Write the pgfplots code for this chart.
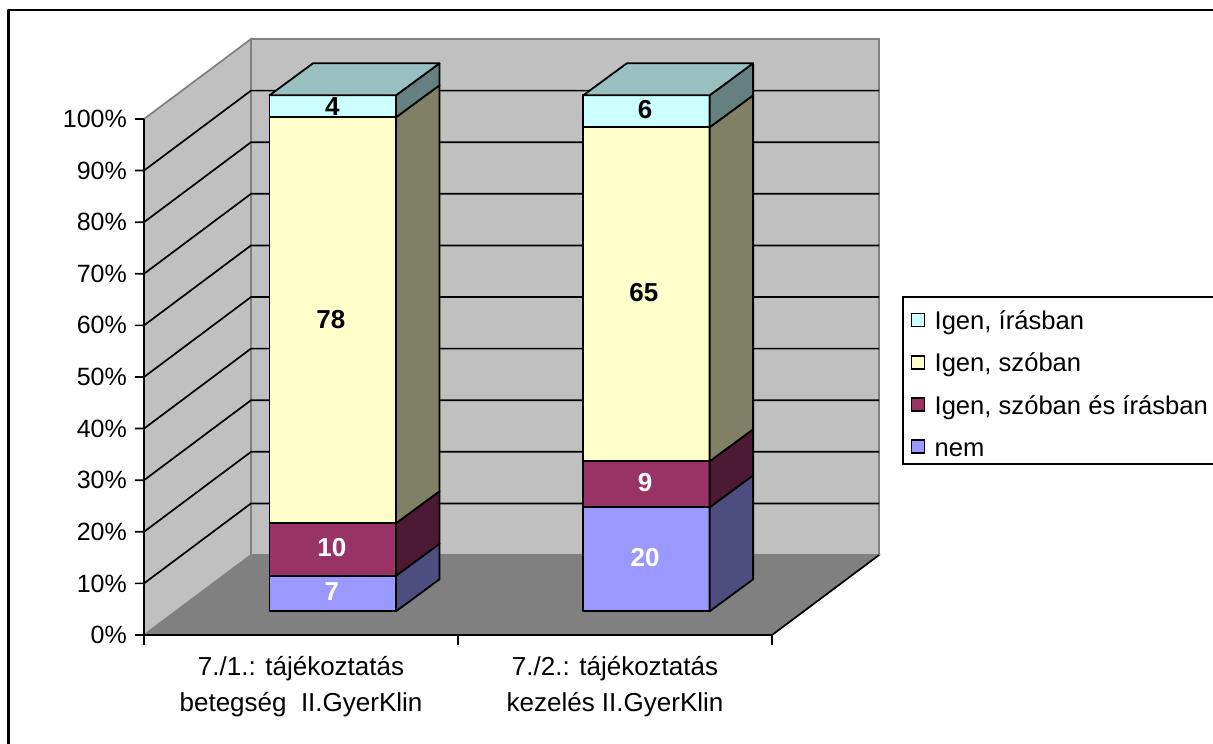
\documentclass[border=0pt]{standalone}
\usepackage{pgfplots}
\pgfplotsset{compat=1.18}
\usepackage{fontspec}
\setmainfont{Liberation Sans}

\definecolor{wall}{HTML}{C0C0C0}
\definecolor{wallline}{HTML}{808080}
\definecolor{floorc}{HTML}{808080}
\definecolor{nemF}{HTML}{9999FF}
\definecolor{nemS}{HTML}{4D4D80}
\definecolor{mindF}{HTML}{993366}
\definecolor{mindS}{HTML}{4D1A33}
\definecolor{szoF}{HTML}{FFFFCC}
\definecolor{szoS}{HTML}{808066}
\definecolor{irF}{HTML}{CCFFFF}
\definecolor{irS}{HTML}{668080}
\definecolor{irT}{HTML}{99C0C0}

\newcommand{\lbl}{\fontsize{25}{35}\selectfont}
\newcommand{\catlbl}{\fontsize{26}{36}\selectfont}
\newcommand{\leglbl}{\fontsize{25.6}{30}\selectfont}
\newcommand{\vallbl}{\fontsize{26}{30}\selectfont\bfseries}
\newcommand{\swatch}[1]{\addlegendimage{legend image code/.code={\path[draw=none] (0pt,-3pt) -- (21pt,-3pt);\draw[fill=#1,draw=black,line width=1.6pt] (0pt,-9.5pt) rectangle (13pt,3.5pt);}}}

\begin{document}
\begin{tikzpicture}
\useasboundingbox (0,0) rectangle (1213pt,744pt);
\begin{axis}[
    scale only axis,
    width=1213pt, height=744pt,
    xmin=-0.4586, xmax=3.4045,
    ymin=-21.124, ymax=123.06,
    axis line style={draw=none},
    tick style={draw=none},
    major tick length=0pt,
    ytick={0,10,...,100},
    yticklabel={\pgfmathprintnumber{\tick}\%},
    /pgf/number format/assume math mode=true,
    yticklabel style={font=\lbl, anchor=east, inner sep=0pt, xshift=127pt},
    xtick={0.5,1.5},
    xticklabels={{7./1.: tájékoztatás\\betegség\ \ II.GyerKlin},{7./2.: tájékoztatás\\kezelés II.GyerKlin}},
    xticklabel style={font=\catlbl, align=center, anchor=north, inner sep=0pt, yshift=88pt},
    legend style={at={(0.7436,0.6022)}, anchor=north west, draw=black, line width=1.6pt,
        font=\leglbl, inner xsep=8pt, inner ysep=4pt, row sep=9.7pt,
        cells={anchor=west, text height=27pt, text depth=8pt, inner ysep=0pt}},
    legend cell align=left,
    wire/.style={draw=black, line width=1.7pt, forget plot, line join=round},
    face/.style={draw=black, line width=1.8pt, forget plot, line join=round, fill=#1},
]
% chart area frame (runs off the right and bottom of the page)
\addplot[wire, line width=2.2pt] coordinates {(-0.4315,-21.124)(-0.4315,121.1)(3.4045,121.1)};

% walls and floor
\addplot[forget plot, fill=floorc, draw=wallline, line width=1.2pt] coordinates {(0,0)(2,0)(2.3408,15.5)(0.3408,15.5)} --cycle;
\addplot[forget plot, fill=wall, draw=wallline, line width=1.7pt] coordinates {(0,0)(0,100)(0.3408,115.5)(0.3408,15.5)} --cycle;
\addplot[forget plot, fill=wall, draw=wallline, line width=1.7pt] coordinates {(0.3408,15.5)(0.3408,115.5)(2.3408,115.5)(2.3408,15.5)} --cycle;

% gridlines with their tick: tick, side wall, back wall
\addplot[wire] coordinates {(-0.0287,10)(0,10)(0.3408,25.5)(2.3408,25.5)};
\addplot[wire] coordinates {(-0.0287,20)(0,20)(0.3408,35.5)(2.3408,35.5)};
\addplot[wire] coordinates {(-0.0287,30)(0,30)(0.3408,45.5)(2.3408,45.5)};
\addplot[wire] coordinates {(-0.0287,40)(0,40)(0.3408,55.5)(2.3408,55.5)};
\addplot[wire] coordinates {(-0.0287,50)(0,50)(0.3408,65.5)(2.3408,65.5)};
\addplot[wire] coordinates {(-0.0287,60)(0,60)(0.3408,75.5)(2.3408,75.5)};
\addplot[wire] coordinates {(-0.0287,70)(0,70)(0.3408,85.5)(2.3408,85.5)};
\addplot[wire] coordinates {(-0.0287,80)(0,80)(0.3408,95.5)(2.3408,95.5)};
\addplot[wire] coordinates {(-0.0287,90)(0,90)(0.3408,105.5)(2.3408,105.5)};
\addplot[wire] coordinates {(-0.0287,100)(0,100)};

% axes
\addplot[wire] coordinates {(0,100)(0,-1.94)};
\addplot[wire] coordinates {(-0.0287,0)(2,0)(2.3408,15.5)};
\addplot[wire] coordinates {(1,0)(1,-1.94)};
\addplot[wire] coordinates {(2,0)(2,-1.94)};

% first column: 7, 10, 78, 4
\addplot[face=nemF]  coordinates {(0.3997,4.59)(0.8025,4.59)(0.8025,11.49)(0.3997,11.49)} --cycle;
\addplot[face=nemS]  coordinates {(0.8025,4.59)(0.9410,10.79)(0.9410,17.69)(0.8025,11.49)} --cycle;
\addplot[face=mindF] coordinates {(0.3997,11.49)(0.8025,11.49)(0.8025,21.65)(0.3997,21.65)} --cycle;
\addplot[face=mindS] coordinates {(0.8025,11.49)(0.9410,17.69)(0.9410,27.85)(0.8025,21.65)} --cycle;
\addplot[face=szoF]  coordinates {(0.3997,21.65)(0.8025,21.65)(0.8025,100.33)(0.3997,100.33)} --cycle;
\addplot[face=szoS]  coordinates {(0.8025,21.65)(0.9410,27.85)(0.9410,106.53)(0.8025,100.33)} --cycle;
\addplot[face=irF]   coordinates {(0.3997,100.33)(0.8025,100.33)(0.8025,104.59)(0.3997,104.59)} --cycle;
\addplot[face=irS]   coordinates {(0.8025,100.33)(0.9410,106.53)(0.9410,110.79)(0.8025,104.59)} --cycle;
\addplot[face=irT]   coordinates {(0.3997,104.59)(0.8025,104.59)(0.9410,110.79)(0.5382,110.79)} --cycle;

% second column: 20, 9, 65, 6
\addplot[face=nemF]  coordinates {(1.3990,4.59)(1.8013,4.59)(1.8013,24.75)(1.3990,24.75)} --cycle;
\addplot[face=nemS]  coordinates {(1.8013,4.59)(1.9398,10.79)(1.9398,30.95)(1.8013,24.75)} --cycle;
\addplot[face=mindF] coordinates {(1.3990,24.75)(1.8013,24.75)(1.8013,33.66)(1.3990,33.66)} --cycle;
\addplot[face=mindS] coordinates {(1.8013,24.75)(1.9398,30.95)(1.9398,39.86)(1.8013,33.66)} --cycle;
\addplot[face=szoF]  coordinates {(1.3990,33.66)(1.8013,33.66)(1.8013,98.39)(1.3990,98.39)} --cycle;
\addplot[face=szoS]  coordinates {(1.8013,33.66)(1.9398,39.86)(1.9398,104.59)(1.8013,98.39)} --cycle;
\addplot[face=irF]   coordinates {(1.3990,98.39)(1.8013,98.39)(1.8013,104.59)(1.3990,104.59)} --cycle;
\addplot[face=irS]   coordinates {(1.8013,98.39)(1.9398,104.59)(1.9398,110.79)(1.8013,104.59)} --cycle;
\addplot[face=irT]   coordinates {(1.3990,104.59)(1.8013,104.59)(1.9398,110.79)(1.5375,110.79)} --cycle;

% value labels
\node[font=\vallbl] at (axis cs:0.6,102.5) {4};
\node[font=\vallbl] at (axis cs:0.595,61.2) {78};
\node[font=\vallbl, text=white] at (axis cs:0.598,16.86) {10};
\node[font=\vallbl, text=white] at (axis cs:0.598,8.33) {7};
\node[font=\vallbl] at (axis cs:1.5955,101.9) {6};
\node[font=\vallbl] at (axis cs:1.592,66.3) {65};
\node[font=\vallbl, text=white] at (axis cs:1.5955,29.5) {9};
\node[font=\vallbl, text=white] at (axis cs:1.5955,15) {20};

\swatch{irF}\addlegendentry{Igen, írásban}
\swatch{szoF}\addlegendentry{Igen, szóban}
\swatch{mindF}\addlegendentry{Igen, szóban és írásban}
\swatch{nemF}\addlegendentry{nem}
\end{axis}
\end{tikzpicture}
\end{document}
